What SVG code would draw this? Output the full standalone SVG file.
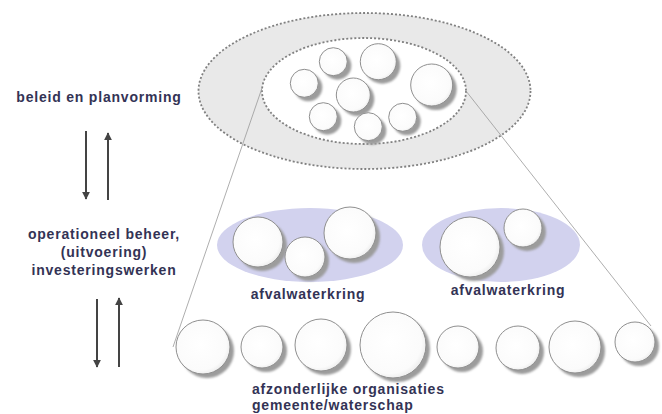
<svg xmlns="http://www.w3.org/2000/svg" width="662" height="414" viewBox="0 0 662 414">
<style>
.t{font-family:"Liberation Sans",Arial,sans-serif;font-weight:bold;font-size:14px;fill:#333355;letter-spacing:0.8px}
.c{fill:url(#cg);stroke:#8f8f8f;stroke-width:1}
.s{fill:#9c9c9c;filter:url(#bl)}
.dot{stroke:#808080;stroke-width:1.8;stroke-dasharray:2 2}
.thin{stroke:#999;stroke-width:0.8;fill:none}
.arr{stroke:#444;stroke-width:2}
.lav{fill:#d2d2ee}
</style>
<defs>
<radialGradient id="cg" cx="0.45" cy="0.45" r="0.6">
<stop offset="0" stop-color="#ffffff"/>
<stop offset="0.8" stop-color="#fbfbfb"/>
<stop offset="1" stop-color="#e8e8e8"/>
</radialGradient>
<filter id="bl" x="-20%" y="-20%" width="140%" height="140%"><feGaussianBlur stdDeviation="1.3"/></filter>
<marker id="ah" viewBox="0 0 10 10" refX="9" refY="5" markerWidth="4" markerHeight="4" orient="auto"><path d="M0,0 L10,5 L0,10 z" fill="#444"/></marker>
</defs>

<g id="policy-level">
<ellipse cx="364.5" cy="91" rx="166" ry="78" fill="#e9e9e9" class="dot"/>
<ellipse cx="364" cy="91" rx="102" ry="53" fill="#fff" class="dot"/>
<g id="top-circles">
<circle class="s" cx="337.3" cy="65.7" r="14"/><circle class="c" cx="333.3" cy="61.7" r="14"/>
<circle class="s" cx="382.3" cy="65.7" r="18"/><circle class="c" cx="378.3" cy="61.7" r="18"/>
<circle class="s" cx="308.3" cy="87.3" r="14"/><circle class="c" cx="304.3" cy="83.3" r="14"/>
<circle class="s" cx="357.3" cy="99" r="17"/><circle class="c" cx="353.3" cy="95" r="17"/>
<circle class="s" cx="435.7" cy="89" r="21"/><circle class="c" cx="431.7" cy="85" r="21"/>
<circle class="s" cx="327.3" cy="120.7" r="14"/><circle class="c" cx="323.3" cy="116.7" r="14"/>
<circle class="s" cx="372.3" cy="130.7" r="14"/><circle class="c" cx="368.3" cy="126.7" r="14"/>
<circle class="s" cx="406.7" cy="121.3" r="14"/><circle class="c" cx="402.7" cy="117.3" r="14"/>
</g>
</g>

<g id="connectors">
<line class="thin" x1="262" y1="88" x2="173" y2="347"/>
<line class="thin" x1="466" y1="91" x2="651" y2="326"/>
<line class="arr" x1="86" y1="131" x2="86" y2="199" marker-end="url(#ah)"/>
<line class="arr" x1="108" y1="200" x2="108" y2="133" marker-end="url(#ah)"/>
<line class="arr" x1="97" y1="299" x2="97" y2="367" marker-end="url(#ah)"/>
<line class="arr" x1="119" y1="367" x2="119" y2="298" marker-end="url(#ah)"/>
</g>

<g id="label-policy"><text class="t" x="99" y="102" text-anchor="middle">beleid en planvorming</text></g>
<g id="label-operational">
<text class="t" x="104" y="239" text-anchor="middle">operationeel beheer,</text>
<text class="t" x="104" y="257" text-anchor="middle">(uitvoering)</text>
<text class="t" x="104" y="275" text-anchor="middle">investeringswerken</text>
</g>

<g id="kring-left">
<ellipse class="lav" cx="310" cy="245" rx="93" ry="37"/>
<circle class="s" cx="262" cy="246" r="25"/><circle class="c" cx="258" cy="242" r="25"/>
<circle class="s" cx="309" cy="261" r="20"/><circle class="c" cx="305" cy="257" r="20"/>
<circle class="s" cx="354" cy="237" r="26"/><circle class="c" cx="350" cy="233" r="26"/>
<text class="t" x="308" y="299" text-anchor="middle">afvalwaterkring</text>
</g>
<g id="kring-right">
<ellipse class="lav" cx="501" cy="245" rx="79" ry="37"/>
<circle class="s" cx="474" cy="251" r="30"/><circle class="c" cx="470" cy="247" r="30"/>
<circle class="s" cx="527" cy="232" r="19"/><circle class="c" cx="523" cy="228" r="19"/>
<text class="t" x="508" y="295" text-anchor="middle">afvalwaterkring</text>
</g>

<g id="organisations">
<circle class="s" cx="207" cy="351" r="27"/><circle class="c" cx="203" cy="347" r="27"/>
<circle class="s" cx="266" cy="351" r="21"/><circle class="c" cx="262" cy="347" r="21"/>
<circle class="s" cx="325" cy="349" r="26"/><circle class="c" cx="321" cy="345" r="26"/>
<circle class="s" cx="397" cy="349" r="33"/><circle class="c" cx="393" cy="345" r="33"/>
<circle class="s" cx="462" cy="351" r="21"/><circle class="c" cx="458" cy="347" r="21"/>
<circle class="s" cx="522" cy="352" r="22"/><circle class="c" cx="518" cy="348" r="22"/>
<circle class="s" cx="579" cy="351" r="26"/><circle class="c" cx="575" cy="347" r="26"/>
<circle class="s" cx="639" cy="346" r="20"/><circle class="c" cx="635" cy="342" r="20"/>
<text class="t" x="252" y="394">afzonderlijke organisaties</text>
<text class="t" x="252" y="410">gemeente/waterschap</text>
</g>
</svg>
